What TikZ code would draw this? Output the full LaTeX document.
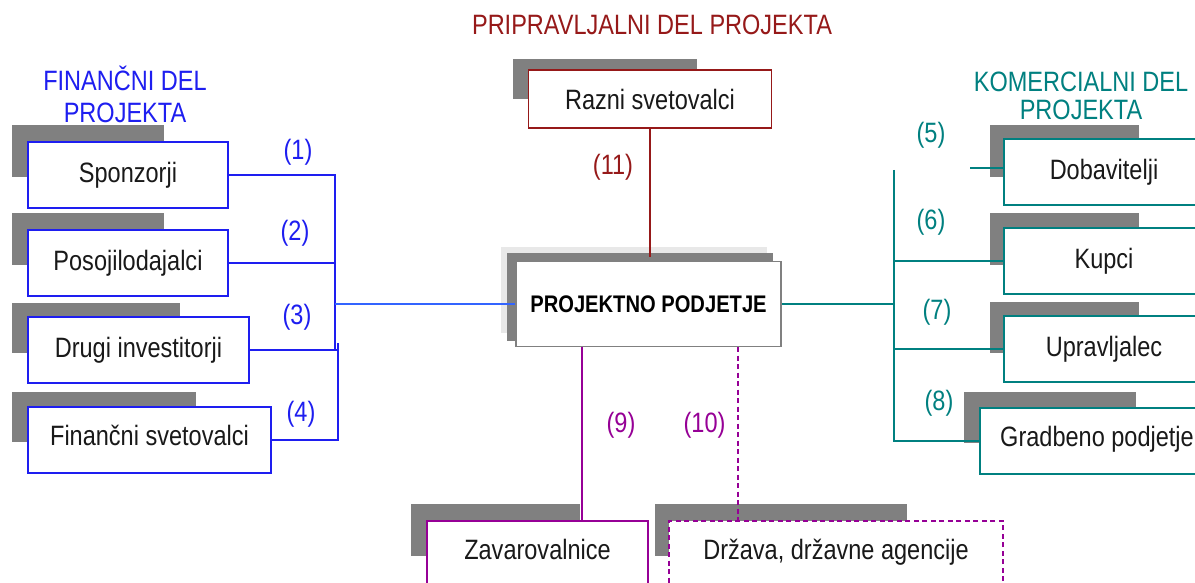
\documentclass[tikz,border=0pt]{standalone}
\usepackage{fontspec}
\setmainfont{Liberation Sans}[FakeStretch=0.84]
\definecolor{finblue}{RGB}{30,30,240}
\definecolor{linkblue}{RGB}{50,100,255}
\definecolor{komteal}{RGB}{0,128,128}
\definecolor{pripred}{RGB}{150,25,25}
\definecolor{purp}{RGB}{150,0,150}
\definecolor{shadowgray}{RGB}{128,128,128}
\definecolor{lightshadow}{RGB}{232,232,232}
\definecolor{txt}{RGB}{25,25,25}
\begin{document}
\begin{tikzpicture}[x=1pt,y=-1pt,
  every node/.style={font=\fontsize{28}{33}\selectfont, text=txt},
  boxbase/.style={draw, fill=white, line width=1.8pt, inner sep=0pt},
  finbox/.style={boxbase, draw=finblue},
  kombox/.style={boxbase, draw=komteal},
  pripbox/.style={boxbase, draw=pripred},
  purbox/.style={boxbase, draw=purp},
  projbox/.style={boxbase, draw=shadowgray, line width=1.5pt},
  shade/.style={fill=shadowgray},
  finline/.style={draw=finblue, line width=2pt},
  komline/.style={draw=komteal, line width=2pt},
  ripline/.style={draw=pripred, line width=2pt},
  purline/.style={draw=purp, line width=2pt},
  dashline/.style={draw=purp, line width=2pt, dash pattern=on 5pt off 3.5pt},
  lab/.style={inner sep=0pt}
]
\useasboundingbox (0,0) rectangle (1195,583);
\clip (0,0) rectangle (1195,583);
\fill[white] (0,0) rectangle (1195,583);

% titles
\node[lab, text=pripred] (tprip) at (652,25) {PRIPRAVLJALNI DEL PROJEKTA};
\node[lab, text=finblue, align=center] (tfin) at (125,94) {FINANČNI DEL\\[-1pt]PROJEKTA};
\node[lab, text=komteal, align=center] (tkom) at (1081,96) {KOMERCIALNI DEL\\[-5pt]PROJEKTA};

% shadows
\fill[shade] (12,125) rectangle (164,177);
\fill[shade] (12,213) rectangle (164,265);
\fill[shade] (12,303) rectangle (180,353);
\fill[shade] (12,392) rectangle (196,442);
\fill[shade] (990,125) rectangle (1139,177);
\fill[shade] (990,213) rectangle (1139,265);
\fill[shade] (990,302) rectangle (1139,353);
\fill[shade] (964,392) rectangle (1136,443);
\fill[shade] (513,59) rectangle (697,99);
\fill[lightshadow] (501,247) rectangle (767,333);
\fill[shade] (507,253) rectangle (773,341);
\fill[shade] (411,504) rectangle (580,556);
\fill[shade] (655,504) rectangle (907,556);

% connector coordinates
\coordinate (bt) at (335,176);
\coordinate (bb) at (335,349);
\coordinate (b2t) at (338,343);
\coordinate (tvt) at (894,170);
\coordinate (dstub) at (970,168);
\coordinate (rtop) at (650,257);
\coordinate (p9) at (582,347);
\coordinate (p10) at (738,347);

% left boxes
\node[finbox, minimum width=200pt, minimum height=66pt] (spon) at (128,175) {Sponzorji};
\node[finbox, minimum width=200pt, minimum height=66pt] (poso) at (128,263) {Posojilodajalci};
\node[finbox, minimum width=221pt, minimum height=66pt] (drugi) at (138.5,350) {Drugi investitorji};
\node[finbox, minimum width=243pt, minimum height=66pt, text depth=10pt] (finsv) at (149.5,440) {Finančni svetovalci};

% right boxes
\node[kombox, minimum width=200pt, minimum height=66pt] (dob) at (1104,172) {Dobavitelji};
\node[kombox, minimum width=200pt, minimum height=66pt] (kup) at (1104,261) {Kupci};
\node[kombox, minimum width=200pt, minimum height=66pt] (upr) at (1104,349) {Upravljalec};
\node[kombox, minimum width=234pt, minimum height=66pt, text depth=10pt] (grad) at (1097,441) {Gradbeno podjetje};

% top and centre
\node[pripbox, minimum width=243pt, minimum height=58pt] (razni) at (650,99) {Razni svetovalci};
\node[projbox, minimum width=265pt, minimum height=85pt, font=\fontsize{24}{28}\selectfont\bfseries, text=black] (proj) at (648.5,304) {PROJEKTNO PODJETJE};

% bottom boxes
\node[purbox, minimum width=221pt, minimum height=66pt, text depth=9pt] (zav) at (537.5,554) {Zavarovalnice};
\node[boxbase, draw=purp, dash pattern=on 5pt off 3.5pt, minimum width=334pt, minimum height=66pt, text depth=9pt] (drz) at (836,554) {Država, državne agencije};

% financial connectors
\draw[finline] (spon.east) -- (spon.east -| bt) -- (bb);
\draw[finline] (poso.east) -- (poso.east -| bt);
\draw[finline] (drugi.east) -- (drugi.east -| b2t);
\draw[finline] (b2t) -- (b2t |- finsv.east) -- (finsv.east);
\draw[draw=linkblue, line width=2pt] (proj.west) -- (proj.west -| bt);

% commercial connectors
\draw[komline] (tvt) -- (tvt |- grad.west) -- (grad.west);
\draw[komline] (dstub) -- (dstub -| dob.west);
\draw[komline] (kup.west) -- (kup.west -| tvt);
\draw[komline] (upr.west) -- (upr.west -| tvt);
\draw[komline] (proj.east) -- (proj.east -| tvt);

% other connectors
\draw[ripline] (razni.south) -- (razni.south |- rtop);
\draw[purline] (p9) -- (p9 |- zav.north);
\draw[dashline] (p10) -- (p10 |- drz.north);

% labels
\node[lab, text=finblue] (l1) at (298,152) {(1)};
\node[lab, text=finblue] (l2) at (295,233) {(2)};
\node[lab, text=finblue] (l3) at (297,317) {(3)};
\node[lab, text=finblue] (l4) at (301,414) {(4)};
\node[lab, text=komteal] (l5) at (931,135) {(5)};
\node[lab, text=komteal] (l6) at (931,222) {(6)};
\node[lab, text=komteal] (l7) at (937,312) {(7)};
\node[lab, text=komteal] (l8) at (939,403) {(8)};
\node[lab, text=purp] (l9) at (621,425) {(9)};
\node[lab, text=purp] (l10) at (704.5,425) {(10)};
\node[lab, text=pripred] (l11) at (613,167) {(11)};
\end{tikzpicture}
\end{document}
